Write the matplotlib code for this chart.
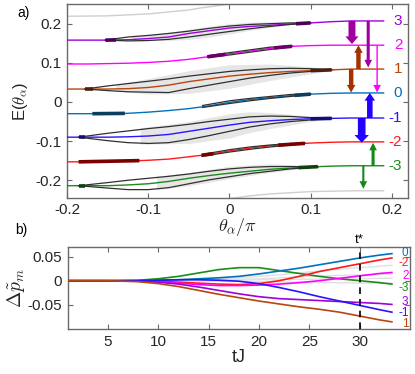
import numpy as np
import matplotlib
matplotlib.use("Agg")
import matplotlib.pyplot as plt

plt.rcParams['font.family'] = ['Liberation Sans', 'DejaVu Sans']
plt.rcParams['mathtext.fontset'] = 'cm'

# ---------------- panel a data ----------------
theta = [-0.2, -0.175, -0.15, -0.125, -0.1, -0.075, -0.05, -0.025, 0.0, 0.025, 0.05, 0.075, 0.1, 0.125, 0.15, 0.19]
levels = [3, 2, 1, 0, -1, -2, -3]
E_level = {
    3:  [0.158, 0.158, 0.158, 0.159, 0.162, 0.166, 0.175, 0.182, 0.189, 0.193, 0.196, 0.199, 0.202, 0.205, 0.207, 0.207],
    2:  [0.097, 0.097, 0.098, 0.099, 0.101, 0.104, 0.109, 0.116, 0.123, 0.130, 0.137, 0.142, 0.144, 0.145, 0.145, 0.145],
    1:  [0.033, 0.033, 0.033, 0.034, 0.037, 0.043, 0.052, 0.059, 0.066, 0.071, 0.075, 0.078, 0.080, 0.082, 0.084, 0.084],
    0:  [-0.030, -0.030, -0.030, -0.029, -0.026, -0.022, -0.017, -0.010, -0.001, 0.006, 0.011, 0.016, 0.020, 0.022, 0.023, 0.023],
    -1: [-0.090, -0.090, -0.090, -0.089, -0.087, -0.083, -0.075, -0.067, -0.059, -0.052, -0.048, -0.045, -0.043, -0.042, -0.041, -0.041],
    -2: [-0.153, -0.153, -0.152, -0.151, -0.149, -0.146, -0.140, -0.134, -0.125, -0.118, -0.112, -0.108, -0.105, -0.103, -0.102, -0.102],
    -3: [-0.214, -0.214, -0.214, -0.212, -0.209, -0.203, -0.195, -0.188, -0.182, -0.177, -0.172, -0.169, -0.166, -0.164, -0.163, -0.163],
}
level_colors = {3: '#A000DD', 2: '#FF00FF', 1: '#B8460F', 0: '#0072BD',
                -1: '#2A14FF', -2: '#FF1A1A', -3: '#1A8C1A'}
dark_colors = {3: '#4A0058', 2: '#6A006A', 1: '#4A2010', 0: '#0A3D5E',
               -1: '#141070', -2: '#7A0000', -3: '#104010'}

# envelopes (upper/lower black curves)
env_theta = {
    3:  [-0.153, -0.125, -0.1, -0.075, -0.05, -0.025, 0.0, 0.025, 0.05, 0.075, 0.1],
    1:  [-0.178, -0.15, -0.125, -0.1, -0.075, -0.05, -0.025, 0.0, 0.025, 0.05, 0.075, 0.1, 0.126],
    -1: [-0.186, -0.15, -0.125, -0.1, -0.075, -0.05, -0.025, 0.0, 0.025, 0.05, 0.075, 0.1, 0.126],
    -3: [-0.186, -0.15, -0.125, -0.1, -0.075, -0.05, -0.025, 0.0, 0.025, 0.05, 0.075, 0.109],
    2:  [-0.027, 0.0, 0.025, 0.05, 0.077],
    0:  [-0.033, 0.0, 0.025, 0.05, 0.075, 0.1],
    -2: [-0.034, 0.0, 0.025, 0.05, 0.075, 0.093],
}
env_upper = {
    3:  [0.158, 0.166, 0.170, 0.175, 0.181, 0.188, 0.194, 0.198, 0.200, 0.202, 0.202],
    1:  [0.033, 0.041, 0.047, 0.053, 0.059, 0.066, 0.072, 0.078, 0.082, 0.085, 0.086, 0.085, 0.082],
    -1: [-0.090, -0.080, -0.074, -0.068, -0.063, -0.057, -0.050, -0.044, -0.038, -0.036, -0.037, -0.040, -0.042],
    -3: [-0.214, -0.206, -0.200, -0.195, -0.190, -0.184, -0.177, -0.171, -0.167, -0.165, -0.165, -0.166],
    2:  [0.118, 0.126, 0.133, 0.140, 0.144],
    0:  [-0.009, 0.003, 0.009, 0.014, 0.019, 0.021],
    -2: [-0.134, -0.122, -0.115, -0.110, -0.106, -0.105],
}
env_lower = {
    3:  [0.158, 0.156, 0.157, 0.160, 0.166, 0.173, 0.180, 0.187, 0.193, 0.198, 0.202],
    1:  [0.033, 0.029, 0.026, 0.025, 0.024, 0.034, 0.043, 0.052, 0.061, 0.068, 0.074, 0.078, 0.082],
    -1: [-0.090, -0.099, -0.104, -0.106, -0.104, -0.096, -0.086, -0.075, -0.064, -0.056, -0.050, -0.046, -0.042],
    -3: [-0.214, -0.220, -0.224, -0.224, -0.219, -0.209, -0.199, -0.191, -0.183, -0.177, -0.171, -0.166],
    2:  [0.114, 0.120, 0.127, 0.134, 0.141],
    0:  [-0.014, -0.004, 0.003, 0.009, 0.014, 0.019],
    -2: [-0.139, -0.128, -0.121, -0.115, -0.110, -0.106],
}
# thick dark segments (theta start, theta end)
dark_segments = {
    3:  [(-0.153, -0.140), (0.082, 0.100)],
    2:  [(-0.027, -0.005), (0.055, 0.077)],
    1:  [(-0.178, -0.168), (0.100, 0.126)],
    0:  [(-0.169, -0.129), (0.080, 0.100)],
    -1: [(-0.186, -0.178), (0.100, 0.126)],
    -2: [(-0.186, -0.111), (-0.034, -0.020), (0.060, 0.093)],
    -3: [(-0.186, -0.178), (0.085, 0.109)],
}
# light grey shaded bands
band_theta = {
    3:  [-0.12, -0.075, -0.05, -0.025, 0.0, 0.025, 0.05, 0.08],
    1:  [-0.14, -0.1, -0.05, 0.0, 0.05, 0.1, 0.13],
    -1: [-0.11, -0.05, 0.0, 0.025, 0.05, 0.1, 0.13],
    -3: [-0.09, -0.05, 0.0, 0.05, 0.1],
}
band_upper = {
    3:  [0.168, 0.178, 0.186, 0.194, 0.200, 0.204, 0.205, 0.203],
    1:  [0.045, 0.060, 0.080, 0.095, 0.097, 0.090, 0.083],
    -1: [-0.066, -0.050, -0.030, -0.025, -0.027, -0.036, -0.042],
    -3: [-0.190, -0.180, -0.164, -0.158, -0.163],
}
band_lower = {
    3:  [0.156, 0.157, 0.160, 0.166, 0.174, 0.183, 0.190, 0.200],
    1:  [0.028, 0.020, 0.022, 0.035, 0.055, 0.072, 0.082],
    -1: [-0.108, -0.106, -0.092, -0.078, -0.068, -0.050, -0.042],
    -3: [-0.224, -0.214, -0.196, -0.180, -0.167],
}
# out-of-range neighbouring levels (light grey)
grey_top_theta = [-0.2, -0.15, -0.1, -0.05, -0.036, 0.0, 0.02]
grey_top_E = [0.219, 0.220, 0.225, 0.235, 0.240, 0.250, 0.256]
grey_bot_theta = [-0.02, 0.0, 0.025, 0.05, 0.1, 0.15, 0.19]
grey_bot_E = [-0.256, -0.247, -0.240, -0.235, -0.229, -0.227, -0.227]

# transition arrows: theta position, start E, end E, width (pt), color
arrow_theta = [0.151, 0.171, 0.182, 0.159, 0.150, 0.173, 0.163, 0.177, 0.165]
arrow_E0 = [0.207, 0.207, 0.145, 0.084, 0.084, -0.041, -0.041, -0.163, -0.163]
arrow_E1 = [0.148, 0.088, 0.024, 0.145, 0.024, 0.023, -0.104, -0.104, -0.222]
arrow_w = [5.0, 2.2, 1.0, 3.2, 3.2, 4.0, 5.5, 2.2, 1.5]
arrow_col = ['#A0009F', '#A0009F', '#FF00FF', '#A33200', '#A33200',
             '#2200FF', '#2200FF', '#138A13', '#138A13']

# ---------------- panel b data ----------------
tJ = [1, 5, 8, 10, 12, 14, 16, 18, 20, 22, 24, 26, 28, 30, 32, 33.2]
dp = {
    0:  [0, 0, 0.000, 0.001, 0.002, 0.004, 0.006, 0.009, 0.014, 0.020, 0.026, 0.033, 0.040, 0.047, 0.053, 0.056],
    -2: [0, 0, 0.000, -0.001, -0.003, -0.005, -0.007, -0.008, -0.006, 0.000, 0.009, 0.019, 0.027, 0.035, 0.043, 0.047],
    2:  [0, 0, 0.000, -0.002, -0.005, -0.008, -0.010, -0.010, -0.009, -0.007, -0.004, 0.000, 0.005, 0.010, 0.015, 0.017],
    -3: [0, 0, 0.001, 0.004, 0.009, 0.016, 0.023, 0.027, 0.027, 0.021, 0.015, 0.009, 0.004, 0.000, -0.004, -0.007],
    3:  [0, 0, -0.001, -0.003, -0.007, -0.013, -0.020, -0.027, -0.033, -0.037, -0.039, -0.041, -0.043, -0.045, -0.047, -0.049],
    -1: [0, 0, 0.000, 0.001, 0.002, 0.002, 0.001, -0.001, -0.006, -0.014, -0.023, -0.033, -0.042, -0.051, -0.060, -0.065],
    1:  [0, 0, -0.002, -0.006, -0.012, -0.020, -0.028, -0.035, -0.042, -0.048, -0.054, -0.059, -0.065, -0.073, -0.081, -0.085],
}
dp_grey = [
    [0, 0, 0, 0.000, 0.001, 0.002, 0.004, 0.006, 0.009, 0.012, 0.016, 0.020, 0.024, 0.027, 0.030, 0.032],
    [0, 0, 0, 0.000, 0.001, 0.001, 0.002, 0.003, 0.004, 0.006, 0.008, 0.010, 0.011, 0.012, 0.013, 0.014],
    [0, 0, 0, 0.000, 0.000, 0.001, 0.001, 0.001, 0.002, 0.002, 0.003, 0.003, 0.004, 0.004, 0.005, 0.005],
    [0, 0, 0, 0.000, 0.000, -0.001, -0.001, -0.002, -0.002, -0.003, -0.003, -0.004, -0.004, -0.005, -0.005, -0.005],
]
b_label_order = [0, -2, 2, -3, 3, -1, 1]
b_label_y = [0.058, 0.036, 0.010, -0.016, -0.044, -0.066, -0.089]
t_star = 30

xt_a = [-0.2, -0.1, 0, 0.1, 0.2]
xt_a_lab = ['-0.2', '-0.1', '0', '0.1', '0.2']
yt_a = [-0.2, -0.1, 0, 0.1, 0.2]
yt_a_lab = ['-0.2', '-0.1', '0', '0.1', '0.2']
xt_b = [5, 10, 15, 20, 25, 30]
yt_b = [-0.05, 0, 0.05]
yt_b_lab = ['-0.05', '0', '0.05']

# ---------------- figure ----------------
fig = plt.figure(figsize=(4.15, 3.74), dpi=100)
axa = fig.add_axes([0.162, 0.471, 0.821, 0.518])
axb = fig.add_axes([0.163, 0.120, 0.825, 0.220])

def style(ax):
    for s in ax.spines.values():
        s.set_color('#6a6a6a')
        s.set_linewidth(1.0)
    ax.tick_params(direction='in', top=True, right=True, length=3.5, width=0.8,
                   color='#6a6a6a', labelsize=11, labelcolor='#262626', pad=4)

# panel a
for m in band_theta:
    axa.fill_between(band_theta[m], band_lower[m], band_upper[m], color='#e6e6e6', lw=0, zorder=1)
axa.plot(grey_top_theta, grey_top_E, color='#cfcfcf', lw=1.0, zorder=2)
axa.plot(grey_bot_theta, grey_bot_E, color='#cfcfcf', lw=1.0, zorder=2)
for m in levels:
    axa.plot(theta, E_level[m], color=level_colors[m], lw=1.0, zorder=3)
for m in env_theta:
    axa.plot(env_theta[m], env_upper[m], color='#303030', lw=0.9, zorder=4)
    axa.plot(env_theta[m], env_lower[m], color='#303030', lw=0.9, zorder=4)
for m in dark_segments:
    th = np.array(theta); e = np.array(E_level[m])
    for (t0, t1) in dark_segments[m]:
        ts = [t0, t1]
        es = np.interp(ts, th, e)
        axa.plot(ts, es, color=dark_colors[m], lw=2.6, solid_capstyle='butt', zorder=5)
for xa, y0, y1, w, c in zip(arrow_theta, arrow_E0, arrow_E1, arrow_w, arrow_col):
    hw = max(w * 1.9, 5.5) / 10.0
    axa.annotate('', xy=(xa, y1), xytext=(xa, y0),
                 arrowprops=dict(arrowstyle='simple,head_width=%.2f,head_length=%.2f,tail_width=%.2f'
                                 % (hw, 0.55, w / 10.0),
                                 color=c, lw=0, shrinkA=0, shrinkB=0, mutation_scale=10),
                 zorder=6)
for m in levels:
    axa.text(0.213, E_level[m][-1], str(m), color=level_colors[m], fontsize=11,
             ha='right', va='center', zorder=7)
axa.set_xlim(-0.2, 0.22)
axa.set_ylim(-0.245, 0.25)
axa.set_xticks(xt_a, xt_a_lab)
axa.set_yticks(yt_a, yt_a_lab)
style(axa)
axa.set_xlabel(r'$\theta_\alpha/\pi$', fontsize=13, labelpad=-1, color='#262626')
axa.set_ylabel(r'E($\theta_\alpha$)', fontsize=12, labelpad=4, color='#262626')
fig.text(0.043, 0.965, 'a)', fontsize=10, ha='left', va='center')

# panel b
for g in dp_grey:
    axb.plot(tJ, g, color='#e0e0e0', lw=1.0, zorder=1)
for m in [-3, 0, -2, 2, 3, -1, 1]:
    axb.plot(tJ, dp[m], color=level_colors[m], lw=1.2, zorder=3)
axb.axvline(t_star, color='k', ls=(0, (4, 3)), lw=1.2, zorder=4)
axb.text(t_star, 0.071, 't*', fontsize=9.5, ha='center', va='bottom')
for m, yl in zip(b_label_order, b_label_y):
    axb.text(34.85, yl, str(m), color=level_colors[m], fontsize=8.5, ha='right', va='center', zorder=5)
axb.set_xlim(1, 35)
axb.set_ylim(-0.1, 0.07)
axb.set_xticks(xt_b)
axb.set_yticks(yt_b, yt_b_lab)
style(axb)
axb.set_xlabel('tJ', fontsize=13, labelpad=0, color='#262626')
axb.set_ylabel(r'$\Delta\tilde{p}_m$', fontsize=14, labelpad=0, color='#262626')
fig.text(0.036, 0.385, 'b)', fontsize=10, ha='left', va='center')

fig.savefig('out.png', dpi=100)
